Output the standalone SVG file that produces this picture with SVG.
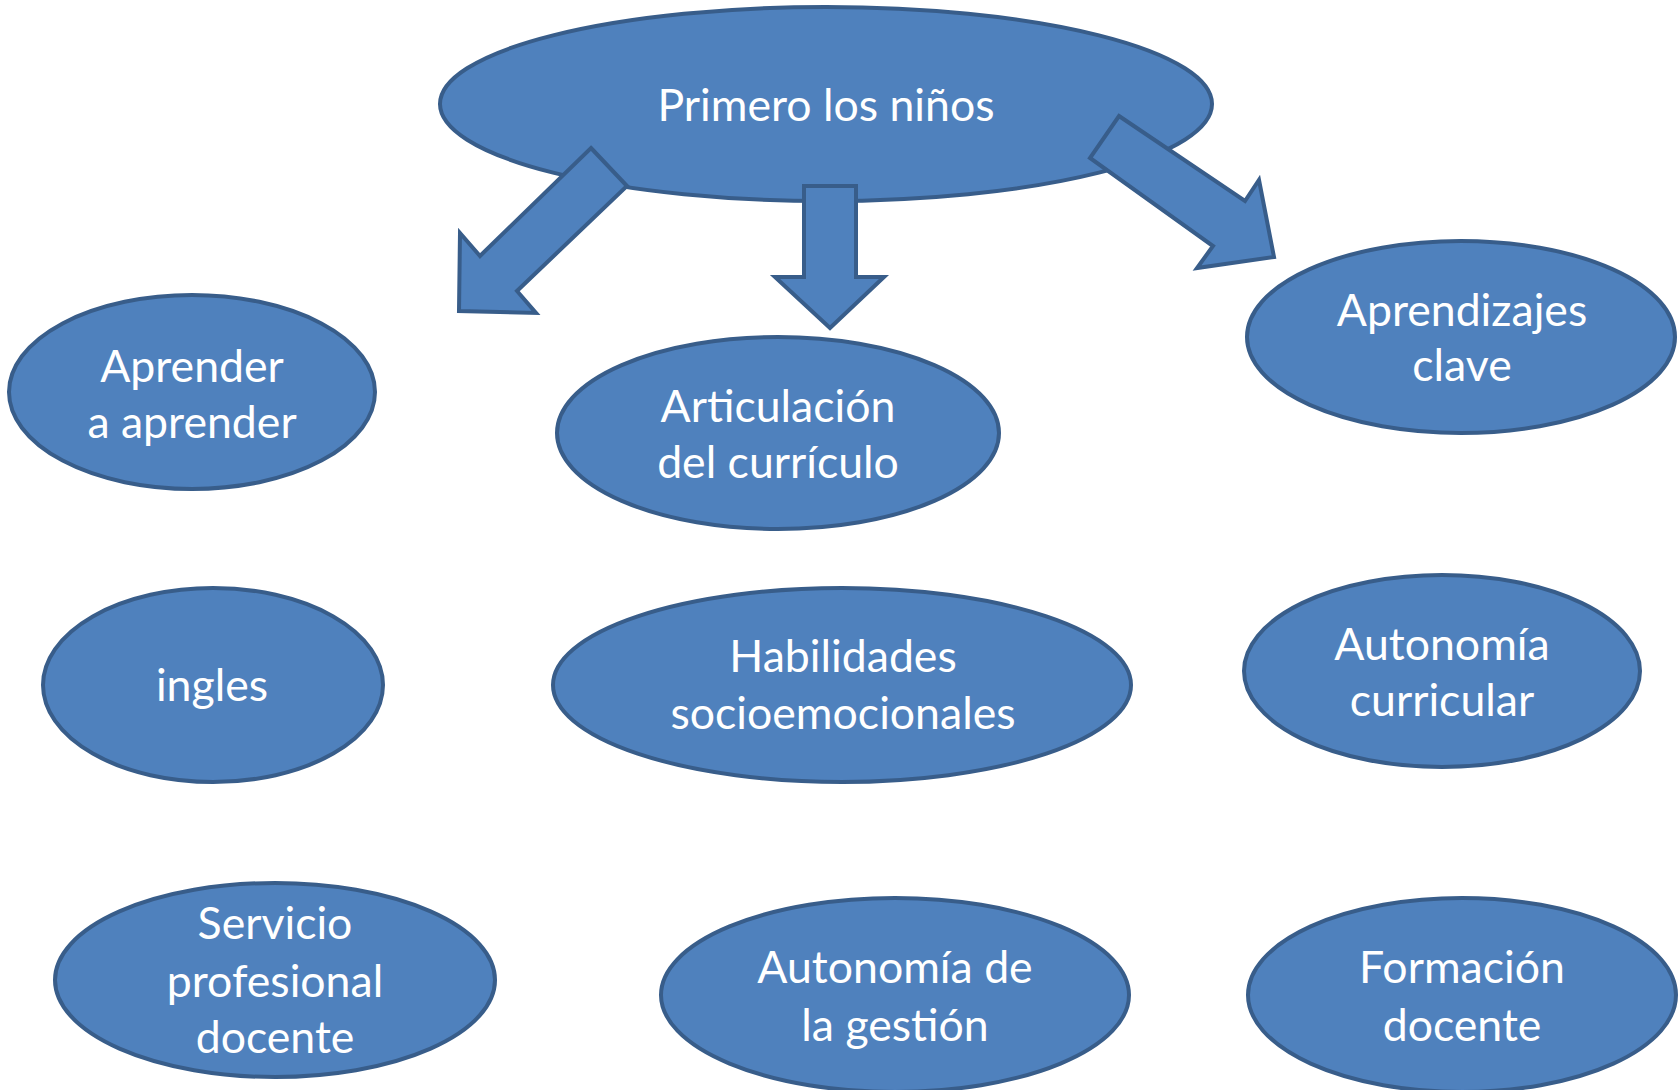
<svg xmlns="http://www.w3.org/2000/svg" width="1679" height="1090" viewBox="0 0 1679 1090">
<style>
.n{fill:#4F81BD;stroke:#385D8A;stroke-width:4}
.a{fill:#4F81BD;stroke:#385D8A;stroke-width:4;stroke-linejoin:miter}
.t{fill:#FFFFFF;font-family:Lato,"Open Sans","Liberation Sans",sans-serif;font-size:44.6px;text-anchor:middle}
</style>
<rect width="1679" height="1090" fill="#FFFFFF"/>
<g id="n-primero">
<ellipse class="n" cx="826" cy="104" rx="386" ry="97"/>
<text class="t" x="826" y="121">Primero los niños</text>
</g>
<g id="connectors">
<polygon class="a" points="591,148 627,186 517,291 536,313 459,311 460,233 480,256"/>
<polygon class="a" points="804,186 856,186 856,277 884,277 830,328 775,277 804,277"/>
<polygon class="a" points="1119,116 1245,201 1259,180 1274,257 1197,268 1213,246 1090,158"/>
</g>
<g id="n-aprender">
<ellipse class="n" cx="192" cy="392" rx="183" ry="97"/>
<text class="t" x="192" y="382">Aprender</text>
<text class="t" x="192" y="438">a aprender</text>
</g>
<g id="n-articulacion">
<ellipse class="n" cx="778" cy="433" rx="221" ry="96"/>
<text class="t" x="778" y="422">Articulación</text>
<text class="t" x="778" y="478">del currículo</text>
</g>
<g id="n-aprendizajes">
<ellipse class="n" cx="1461" cy="337" rx="214" ry="96"/>
<text class="t" x="1462" y="326">Aprendizajes</text>
<text class="t" x="1462" y="381">clave</text>
</g>
<g id="n-ingles">
<ellipse class="n" cx="213" cy="685" rx="170" ry="97"/>
<text class="t" x="212" y="701">ingles</text>
</g>
<g id="n-habilidades">
<ellipse class="n" cx="842" cy="685" rx="289" ry="97"/>
<text class="t" x="843" y="672">Habilidades</text>
<text class="t" x="843" y="729">socioemocionales</text>
</g>
<g id="n-autonomia-curricular">
<ellipse class="n" cx="1442" cy="671" rx="198" ry="96"/>
<text class="t" x="1442" y="660">Autonomía</text>
<text class="t" x="1442" y="716">curricular</text>
</g>
<g id="n-servicio">
<ellipse class="n" cx="275" cy="980" rx="220" ry="97"/>
<text class="t" x="275" y="939">Servicio</text>
<text class="t" x="275" y="997">profesional</text>
<text class="t" x="275" y="1053">docente</text>
</g>
<g id="n-autonomia-gestion">
<ellipse class="n" cx="895" cy="995" rx="234" ry="97"/>
<text class="t" x="895" y="983">Autonomía de</text>
<text class="t" x="895" y="1041">la gestión</text>
</g>
<g id="n-formacion">
<ellipse class="n" cx="1462" cy="995" rx="214" ry="97"/>
<text class="t" x="1462" y="983">Formación</text>
<text class="t" x="1462" y="1041">docente</text>
</g>
</svg>
